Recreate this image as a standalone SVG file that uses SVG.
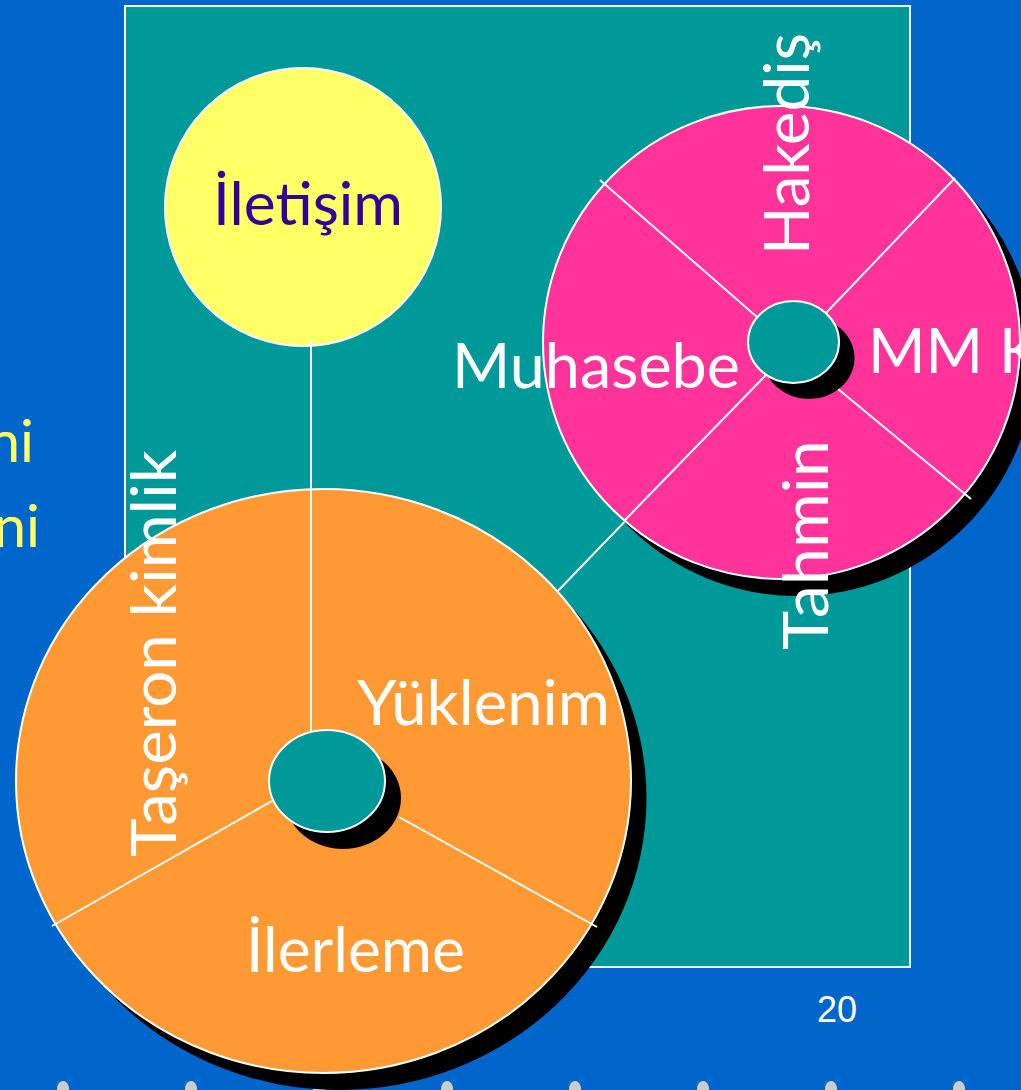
<svg xmlns="http://www.w3.org/2000/svg" width="1021" height="1090" viewBox="0 0 1021 1090">
<style>
.lbl{font-family:Lato,"Noto Sans",sans-serif;font-size:62px;fill:#ffffff}
.ln{stroke:#ffffff;stroke-width:2;fill:none}
.shadow{fill:#000000}
.hub{fill:#009999;stroke:#ffffff;stroke-width:2}
.dot{fill:#cccccc}
</style>
<rect x="0" y="0" width="1021" height="1090" fill="#0066cc"/>
<g id="dots">
<ellipse class="dot" cx="63" cy="1089" rx="6" ry="8"/>
<ellipse class="dot" cx="191" cy="1089" rx="6" ry="8"/>
<ellipse class="dot" cx="319" cy="1089" rx="6" ry="8"/>
<ellipse class="dot" cx="447" cy="1089" rx="6" ry="8"/>
<ellipse class="dot" cx="575" cy="1089" rx="6" ry="8"/>
<ellipse class="dot" cx="703" cy="1089" rx="6" ry="8"/>
<ellipse class="dot" cx="831" cy="1089" rx="6" ry="8"/>
<ellipse class="dot" cx="959" cy="1089" rx="6" ry="8"/>
</g>
<rect id="panel" x="125" y="6" width="785" height="961" fill="#009999" stroke="#ffffff" stroke-width="2"/>
<g id="side-text" font-family="Lato,'Noto Sans',sans-serif" font-size="58" fill="#ffff66" text-anchor="end">
<text x="34" y="462">ni</text>
<text x="40" y="547">ni</text>
</g>
<g id="iletisim">
<ellipse cx="303" cy="207" rx="138" ry="139" fill="#ffff66" stroke="#ffffff" stroke-width="2"/>
<text x="213" y="225" font-family="Lato,'Noto Sans',sans-serif" font-size="60" fill="#330099" textLength="190" lengthAdjust="spacingAndGlyphs">İletişim</text>
</g>
<g id="connectors">
<line class="ln" x1="311" y1="340" x2="311" y2="734"/>
<line class="ln" x1="766" y1="375" x2="553" y2="596"/>
</g>
<g id="muhasebe-wheel">
<ellipse class="shadow" cx="797" cy="359" rx="238" ry="237"/>
<ellipse cx="781.5" cy="342.5" rx="238.5" ry="236.5" fill="#ff3399" stroke="#ffffff" stroke-width="2"/>
<line class="ln" x1="600" y1="180" x2="757" y2="317"/>
<line class="ln" x1="955" y1="178" x2="826" y2="313"/>
<line class="ln" x1="838" y1="389" x2="971" y2="499"/>
<line class="ln" x1="766" y1="375" x2="625" y2="520"/>
<ellipse class="shadow" cx="809" cy="358" rx="45.5" ry="41"/>
<ellipse class="hub" cx="793.5" cy="342" rx="45.5" ry="41"/>
<text class="lbl" x="452" y="388" textLength="288" lengthAdjust="spacingAndGlyphs">Muhasebe</text>
<text class="lbl" x="868" y="373">MM K</text>
<text class="lbl" transform="translate(809 255) rotate(-90)" textLength="222" lengthAdjust="spacingAndGlyphs">Hakediş</text>
<text class="lbl" transform="translate(828 650) rotate(-90)" textLength="210" lengthAdjust="spacingAndGlyphs">Tahmin</text>
</g>
<g id="yuklenim-wheel">
<ellipse class="shadow" cx="339" cy="798" rx="307.5" ry="292"/>
<ellipse cx="323.5" cy="781" rx="307.5" ry="292" fill="#ff9933" stroke="#ffffff" stroke-width="2"/>
<line class="ln" x1="311" y1="489" x2="311" y2="734"/>
<line class="ln" x1="272" y1="801" x2="52" y2="926"/>
<line class="ln" x1="399" y1="817" x2="597" y2="927"/>
<ellipse class="shadow" cx="343" cy="798" rx="58" ry="51"/>
<ellipse class="hub" cx="327" cy="781" rx="58" ry="51"/>
<text class="lbl" x="357" y="725" textLength="253" lengthAdjust="spacingAndGlyphs">Yüklenim</text>
<text class="lbl" x="246" y="972" textLength="219" lengthAdjust="spacingAndGlyphs">İlerleme</text>
<text class="lbl" transform="translate(176 857) rotate(-90)" textLength="407" lengthAdjust="spacingAndGlyphs">Taşeron kimlik</text>
</g>
<text id="page" x="817" y="1022" font-family="'Liberation Sans',sans-serif" font-size="36" fill="#ffffff">20</text>
</svg>
